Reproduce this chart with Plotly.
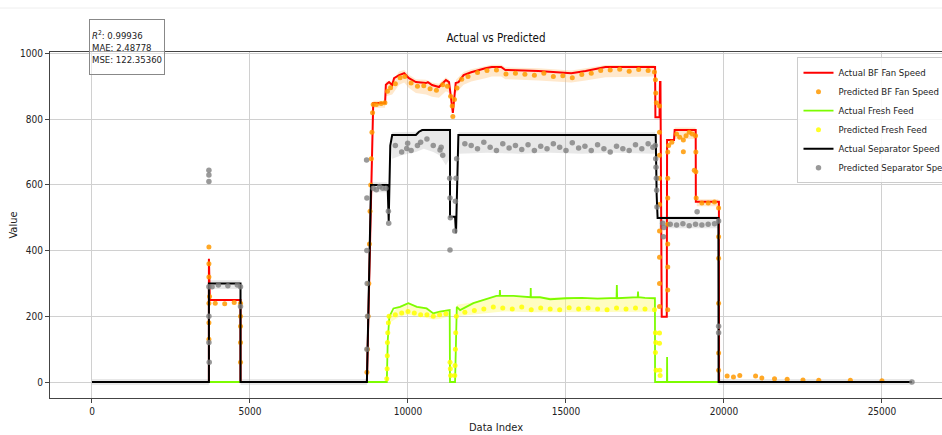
import plotly.graph_objects as go

# ---------------- data ----------------
# Actual BF Fan Speed (step-like series; repeated index = vertical step)
fan_idx = [0, 3700, 3700, 3730, 4700, 4700, 8700, 8900, 9275, 9300, 9400, 9500, 9560, 9720, 9880,
           10030, 10250, 10570, 10630, 10760, 10980, 11200, 11300, 11420, 11510, 11600, 11760, 12000,
           12450, 12650, 12950, 13080, 14130, 15170, 15620, 16250, 17300, 17820, 17830, 17960, 17975,
           17990, 18030, 18190, 18200, 18420, 18440, 19105, 19110, 19840, 19845, 25950]
fan_val = [0, 0, 375, 250, 250, 0, 0, 849, 849, 905, 913, 904, 925, 934, 940,
           925, 913, 910, 913, 904, 898, 919, 913, 819, 910, 913, 934, 943,
           955, 959, 959, 950, 947, 940, 947, 959, 959, 959, 806, 806, 913,
           913, 199, 199, 737, 737, 767, 767, 549, 549, 0, 0]

# Actual Fresh Feed
feed_idx = [0, 9330, 9360, 9410, 9540, 9750, 10010, 10280, 10590, 10800, 11010, 11230, 11320, 11330,
            11490, 11545, 11650, 12070, 12490, 12800, 12900, 12910, 12920, 13340, 13880, 13885, 13890,
            14180, 14500, 15000, 15500, 16000, 16600, 16610, 16620, 17270, 17280, 17290, 17500, 17815,
            17820, 18195, 18200, 18205, 25950]
feed_val = [0, 0, 128, 199, 224, 229, 240, 229, 224, 209, 214, 219, 219, 0,
            0, 229, 219, 240, 254, 262, 262, 280, 262, 262, 258, 286, 258,
            258, 252, 255, 256, 254, 256, 295, 255, 258, 275, 258, 256, 255,
            0, 0, 76, 0, 0]

# Actual Separator Speed
sep_idx = [0, 3700, 3700, 4700, 4700, 8700, 8830, 9355, 9390, 9440, 9500, 10250, 10350, 10450, 11330,
           11330, 11490, 11520, 11595, 17840, 17870, 17900, 19824, 19830, 25950]
sep_val = [0, 0, 300, 300, 0, 0, 600, 600, 490, 720, 752, 752, 762, 767, 767,
           503, 503, 453, 752, 752, 569, 499, 499, 0, 0]

# Predicted BF Fan Speed (sampled points)
pred_fan_idx = [3700, 3700, 3700, 3700, 3700, 3700, 3720, 3900, 4200, 4500, 4700, 4700, 4700, 4700, 4700,
                8700, 8720, 8740, 8760, 8780, 8800, 8820, 8840, 8860, 8880, 8900, 9000, 9150, 9270,
                9350, 9450, 9600, 9750, 9900, 10100, 10300, 10500, 10700, 10900, 11100, 11250, 11350,
                11400, 11420, 11470, 11550, 11700, 11900, 12200, 12500, 12800, 13100, 13400, 13700,
                14000, 14300, 14600, 14900, 15200, 15500, 15800, 16100, 16400, 16700, 17000, 17300,
                17600, 17800, 17830, 17840, 17860, 17960, 17960, 17960, 17960, 17960, 17960, 17960,
                17960, 17960, 18220, 18220, 18220, 18220, 18220, 18220, 18220, 18220, 18250, 18350,
                18500, 18600, 18715, 18715, 18800, 18900, 19000, 19100, 19060, 19110, 19110, 19120,
                19300, 19500, 19700, 19830, 19830, 19830, 19830, 19830, 19830, 20100, 20300, 20500,
                21000, 21200, 21600, 22000, 22500, 23000, 24000, 25000]
pred_fan_val = [411, 360, 320, 240, 180, 130, 260, 240, 238, 242, 240, 200, 170, 120, 60,
                30, 100, 200, 300, 420, 520, 600, 680, 760, 820, 845, 845, 848, 850,
                885, 896, 908, 926, 930, 910, 900, 902, 893, 888, 905, 900, 870,
                840, 808, 860, 895, 922, 930, 942, 948, 950, 938, 940, 937,
                934, 940, 930, 932, 926, 936, 940, 948, 950, 952, 946, 951,
                948, 944, 920, 880, 850, 840, 760, 690, 620, 540, 460, 380,
                300, 230, 700, 620, 560, 480, 420, 350, 280, 220, 720, 730,
                755, 745, 701, 737, 750, 760, 755, 750, 645, 700, 640, 560,
                545, 545, 548, 530, 442, 377, 240, 88, 36, 18, 15, 20,
                18, 12, 10, 8, 6, 5, 5, 4]

# Predicted Fresh Feed (sampled points)
pred_feed_idx = [9330, 9340, 9345, 9350, 9360, 9380, 9400, 9600, 9800, 10000, 10200, 10400, 10600,
                 10800, 11000, 11200, 11330, 11340, 11350, 11480, 11490, 11500, 11510, 11530, 11800,
                 12100, 12400, 12700, 13000, 13300, 13600, 13900, 14200, 14500, 14800, 15100, 15400,
                 15700, 16000, 16300, 16600, 16900, 17200, 17500, 17800, 17830, 17840, 17830, 17850,
                 17960, 17960, 17970, 17980]
pred_feed_val = [10, 40, 80, 120, 150, 180, 200, 205, 210, 215, 210, 205, 205,
                 200, 205, 208, 60, 40, 20, 20, 50, 100, 150, 200, 212,
                 218, 222, 228, 225, 222, 228, 220, 225, 222, 220, 226, 222,
                 225, 222, 220, 225, 222, 225, 222, 220, 150, 120, 90, 36,
                 149, 118, 36, 20]

# Predicted Separator Speed (sampled points)
pred_sep_idx = [3700, 3700, 3700, 3700, 3700, 3700, 3710, 3800, 4000, 4300, 4600, 4700, 4700,
                8690, 8700, 8700, 8710, 8720, 8700, 8900, 9000, 9100, 9200, 9300, 9380, 9390,
                9600, 9800, 9960, 9990, 10100, 10300, 10400, 10600, 10800, 11014, 11050, 11100,
                11320, 11330, 11330, 11340, 11480, 11500, 11520, 11540, 11800, 12000, 12200, 12400,
                12600, 12800, 13000, 13200, 13400, 13600, 13800, 14000, 14200, 14400, 14600, 14800,
                15000, 15200, 15400, 15600, 15800, 16000, 16200, 16400, 16600, 16800, 17000, 17200,
                17400, 17600, 17750, 17830, 17840, 17850, 17860, 17870, 17880, 18085, 18060, 18100,
                18300, 18500, 18700, 18900, 19100, 19150, 19300, 19500, 19700, 19830, 19830, 19830,
                25950]
pred_sep_val = [645, 630, 610, 290, 200, 120, 60, 290, 295, 293, 295, 290, 230,
                676, 560, 400, 300, 200, 100, 590, 585, 595, 590, 590, 520, 483,
                720, 700, 711, 727, 705, 720, 730, 740, 720, 706, 715, 690,
                620, 560, 402, 500, 460, 550, 620, 680, 725, 720, 710, 730,
                715, 705, 725, 712, 720, 708, 722, 705, 718, 710, 725, 715,
                705, 728, 712, 718, 705, 722, 710, 700, 718, 710, 705, 722,
                710, 725, 715, 720, 680, 654, 620, 584, 533, 442, 483, 470,
                480, 478, 482, 476, 480, 518, 478, 480, 482, 490, 170, 150,
                0]

# Light "cloud" bands formed by the dense predicted points (segments)
fan_band_x = [[8900, 9275],
              [9300, 9500, 9720, 9880, 10030, 10250, 10570, 10760, 10980, 11200, 11300],
              [11520, 11760, 12000, 12450, 12650, 12950, 13080, 14130, 15170, 15620, 16250, 17300, 17800],
              [18440, 19100], [19140, 19820]]
fan_band_hi = [[856, 856],
               [915, 915, 945, 950, 935, 922, 920, 912, 908, 928, 920],
               [920, 944, 952, 963, 966, 966, 958, 955, 948, 955, 965, 965, 965],
               [775, 775], [556, 556]]
fan_band_lo = [[835, 835],
               [870, 875, 905, 912, 895, 880, 875, 868, 865, 885, 880],
               [880, 905, 915, 925, 930, 930, 922, 918, 912, 918, 928, 930, 930],
               [740, 740], [535, 535]]

feed_band_x = [[9420, 9750, 10010, 10280, 10590, 10800, 11010, 11230, 11320],
               [11550, 12070, 12490, 13000, 14000, 15000, 16000, 17000, 17815]]
feed_band_hi = [[205, 232, 243, 232, 227, 212, 217, 222, 222],
                [235, 243, 255, 262, 258, 257, 257, 258, 257]]
feed_band_lo = [[180, 200, 205, 200, 195, 190, 192, 198, 198],
                [200, 205, 210, 215, 212, 212, 212, 214, 214]]

sep_band_x = [[0, 3700], [3720, 4690], [4700, 8700], [8840, 9340],
              [9500, 9800, 10250, 10500, 10800, 11000, 11200, 11320],
              [11600, 12500, 13500, 14500, 15500, 16500, 17820],
              [17950, 19800], [19830, 25950]]
sep_band_hi = [[9, 9], [310, 310], [9, 9], [608, 608],
               [760, 760, 762, 772, 772, 772, 772, 772],
               [760, 760, 760, 760, 760, 760, 760],
               [505, 505], [9, 9]]
sep_band_lo = [[-9, -9], [283, 283], [-9, -9], [578, 578],
               [680, 690, 700, 710, 700, 690, 660, 680],
               [695, 698, 695, 698, 695, 698, 695],
               [468, 468], [-9, -9]]

x_ticks = [0, 5000, 10000, 15000, 20000, 25000]
y_ticks = [0, 200, 400, 600, 800, 1000]
metrics_text = "<i>R</i><sup>2</sup>: 0.99936<br>MAE: 2.48778<br>MSE: 122.35360"

# ---------------- figure ----------------
FONT = "DejaVu Sans Condensed, Liberation Sans Narrow, DejaVu Sans, sans-serif"


def band_polygon(xs, his, los):
    px, py = [], []
    for x, h, l in zip(xs, his, los):
        px += list(x) + list(reversed(x)) + [x[0], None]
        py += list(h) + list(reversed(l)) + [h[0], None]
    return px, py


fig = go.Figure()

for xs, his, los, col in [
    (fan_band_x, fan_band_hi, fan_band_lo, "rgba(255,190,110,0.35)"),
    (feed_band_x, feed_band_hi, feed_band_lo, "rgba(255,250,120,0.45)"),
    (sep_band_x, sep_band_hi, sep_band_lo, "rgba(190,190,190,0.35)"),
]:
    bx, by = band_polygon(xs, his, los)
    fig.add_trace(go.Scatter(x=bx, y=by, mode="lines", fill="toself", fillcolor=col,
                             line=dict(width=0), showlegend=False, hoverinfo="skip"))

fig.add_trace(go.Scatter(x=fan_idx, y=fan_val, mode="lines", name="Actual BF Fan Speed",
                         line=dict(color="#ff0000", width=2)))
fig.add_trace(go.Scatter(x=pred_fan_idx, y=pred_fan_val, mode="markers", name="Predicted BF Fan Speed",
                         marker=dict(color="#ff9900", size=5, opacity=0.85, line=dict(width=0))))
fig.add_trace(go.Scatter(x=feed_idx, y=feed_val, mode="lines", name="Actual Fresh Feed",
                         line=dict(color="#7cfc00", width=1.8)))
fig.add_trace(go.Scatter(x=pred_feed_idx, y=pred_feed_val, mode="markers", name="Predicted Fresh Feed",
                         marker=dict(color="#ffff00", size=5, opacity=0.85, line=dict(width=0))))
fig.add_trace(go.Scatter(x=sep_idx, y=sep_val, mode="lines", name="Actual Separator Speed",
                         line=dict(color="#000000", width=2)))
fig.add_trace(go.Scatter(x=pred_sep_idx, y=pred_sep_val, mode="markers", name="Predicted Separator Speed",
                         marker=dict(color="#808080", size=5.5, opacity=0.8, line=dict(width=0))))

fig.update_layout(
    width=942, height=435,
    margin=dict(l=50, r=0, t=52, b=37, autoexpand=False),
    paper_bgcolor="white", plot_bgcolor="white",
    font=dict(family=FONT, size=10, color="#222"),
    title=dict(text="Actual vs Predicted", x=0.5, xref="paper", xanchor="center",
               y=0.912, yref="container", yanchor="middle", font=dict(size=11.5, color="#111")),
    showlegend=True,
    legend=dict(x=0.838, y=0.985, xanchor="left", yanchor="top", bgcolor="rgba(255,255,255,0.85)",
                bordercolor="#cccccc", borderwidth=1, font=dict(size=9.5, color="#222"),
                itemwidth=30),
    annotations=[dict(text=metrics_text, xref="paper", yref="paper", x=0.0437, y=1.095,
                      xanchor="left", yanchor="top", align="left", valign="middle", showarrow=False,
                      width=70, height=50,
                      font=dict(size=9.5, color="#222"), bgcolor="rgba(255,255,255,0.5)",
                      bordercolor="#888888", borderwidth=1, borderpad=2)],
    shapes=[dict(type="line", xref="paper", yref="paper", x0=-0.06, x1=1.0, y0=1.127, y1=1.127,
                 line=dict(color="#eeeeee", width=1))],
)

fig.update_xaxes(range=[-1329, 26900], tickvals=x_ticks, ticktext=[str(v) for v in x_ticks],
                 showgrid=True, gridcolor="#d0d0d0", gridwidth=1, zeroline=False,
                 showline=True, linecolor="#444", linewidth=1, mirror=True,
                 ticks="outside", ticklen=4, tickcolor="#444",
                 title=dict(text="Data Index", standoff=7, font=dict(size=11)))
fig.update_yaxes(range=[-48.7, 1004.6], tickvals=y_ticks, ticktext=[str(v) for v in y_ticks],
                 showgrid=True, gridcolor="#d0d0d0", gridwidth=1, zeroline=False,
                 showline=True, linecolor="#444", linewidth=1,
                 ticks="outside", ticklen=4, tickcolor="#444",
                 title=dict(text="Value", standoff=0, font=dict(size=11)))

fig.write_html("out.html", config={"displayModeBar": False},
               post_script="document.body.style.margin='0px';document.body.style.overflow='hidden';")
